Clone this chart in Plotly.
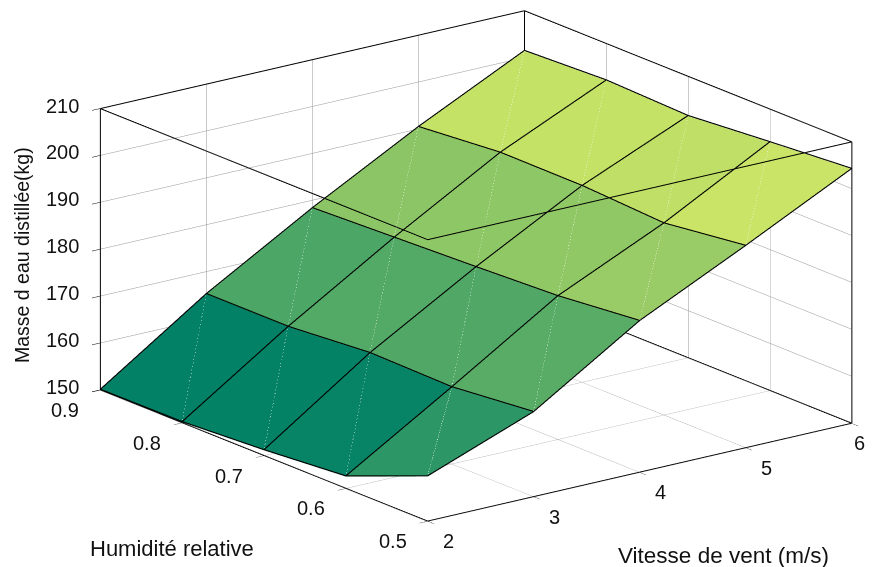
import plotly.graph_objects as go

# Data
vitesse = [2, 3, 4, 5, 6]
humidite = [0.5, 0.6, 0.7, 0.8, 0.9]
masse = [  # rows: humidite, columns: vitesse
    [159.5, 168.0, 182.2, 193.0, 204.2],
    [152.5, 166.3, 180.5, 190.8, 202.9],
    [151.1, 166.6, 179.7, 191.8, 201.5],
    [150.1, 165.2, 179.0, 191.9, 202.1],
    [150.0, 165.2, 178.3, 190.4, 201.4],
]
x_ticks = [2, 3, 4, 5, 6]
y_ticks = [0.5, 0.6, 0.7, 0.8, 0.9]
z_ticks = [150, 160, 170, 180, 190, 200, 210]

nx, ny = len(vitesse), len(humidite)
vx, vy, vz = [], [], []
for r in range(ny):
    for c in range(nx):
        vx.append(vitesse[c]); vy.append(humidite[r]); vz.append(masse[r][c])
idx = lambda r, c: r * nx + c
I, J, K, face = [], [], [], []
for r in range(ny - 1):
    for c in range(nx - 1):
        val = masse[r][c]
        I += [idx(r, c), idx(r, c)]
        J += [idx(r, c + 1), idx(r + 1, c + 1)]
        K += [idx(r + 1, c + 1), idx(r + 1, c)]
        face += [val, val]

fig = go.Figure()
fig.add_trace(go.Mesh3d(
    x=vx, y=vy, z=vz, i=I, j=J, k=K, intensity=face, intensitymode="cell",
    colorscale=[[0, "rgb(0,128,102)"], [0.08, "rgb(8,132,102)"], [0.3, "rgb(78,167,102)"], [1, "rgb(255,255,102)"]],
    cmin=148.5, cmax=205, showscale=False, flatshading=True, hoverinfo="skip",
    lighting=dict(ambient=1, diffuse=0, specular=0, fresnel=0, roughness=1),
))

lift = 0.15
# Mesh lines
lx, ly, lz = [], [], []
for r in range(ny):
    for c in range(nx):
        lx.append(vitesse[c]); ly.append(humidite[r]); lz.append(masse[r][c] + lift)
    lx.append(None); ly.append(None); lz.append(None)
for c in range(nx):
    for r in range(ny):
        lx.append(vitesse[c]); ly.append(humidite[r]); lz.append(masse[r][c] + lift)
    lx.append(None); ly.append(None); lz.append(None)
fig.add_trace(go.Scatter3d(x=lx, y=ly, z=lz, mode="lines", hoverinfo="skip", showlegend=False,
                           line=dict(color="black", width=2.2)))

# Faint quad diagonals
dx, dy, dz = [], [], []
for r in range(ny - 1):
    for c in range(nx - 1):
        dx += [vitesse[c], vitesse[c + 1], None]
        dy += [humidite[r], humidite[r + 1], None]
        dz += [masse[r][c] + lift, masse[r + 1][c + 1] + lift, None]
fig.add_trace(go.Scatter3d(x=dx, y=dy, z=dz, mode="lines", hoverinfo="skip", showlegend=False,
                           line=dict(color="rgba(255,255,255,0.3)", width=1)))

# Axes box edges
x0, x1 = x_ticks[0], x_ticks[-1]
y0, y1 = y_ticks[0], y_ticks[-1]
z0, z1 = z_ticks[0], z_ticks[-1]
edges = [
    ((x0, y1, z0), (x0, y1, z1)), ((x1, y1, z0), (x1, y1, z1)), ((x1, y0, z0), (x1, y0, z1)),
    ((x0, y1, z1), (x1, y1, z1)), ((x1, y1, z1), (x1, y0, z1)), ((x1, y0, z1), (x0, y0, z1)), ((x0, y0, z1), (x0, y1, z1)),
    ((x0, y1, z0), (x0, y0, z0)), ((x0, y0, z0), (x1, y0, z0)), ((x1, y0, z0), (x1, y1, z0)), ((x1, y1, z0), (x0, y1, z0)),
]
bx, by, bz = [], [], []
for a, b in edges:
    bx += [a[0], b[0], None]; by += [a[1], b[1], None]; bz += [a[2], b[2], None]
fig.add_trace(go.Scatter3d(x=bx, y=by, z=bz, mode="lines", hoverinfo="skip", showlegend=False,
                           line=dict(color="black", width=2)))

axis = dict(title=dict(text=""), showbackground=False, showgrid=True, gridcolor="#959595", gridwidth=1,
            zeroline=False, showline=False, ticks="outside", ticklen=10, tickcolor="black", tickwidth=1,
            showticklabels=False, showspikes=False)

# Tick labels placed through the scene's own projection
tick_font = dict(family="Liberation Sans", size=20, color="#111111")
tick_notes = []
for v in z_ticks:
    tick_notes.append(dict(x=x0, y=y1, z=v, text=str(v), showarrow=False, xanchor="center", yanchor="middle",
                           xshift=-38, yshift=3, font=tick_font))
for v in y_ticks:
    tick_notes.append(dict(x=x0, y=v, z=z0, text=str(v), showarrow=False, xanchor="center", yanchor="middle",
                           xshift=-35, yshift=-20, font=tick_font))
for v in x_ticks[:-1]:
    tick_notes.append(dict(x=v, y=y0, z=z0, text=str(v), showarrow=False, xanchor="center", yanchor="middle",
                           xshift=21, yshift=-20, font=tick_font))

D = 3.0
C = (-0.1059, 0.0419, -0.0849)
fig.update_layout(
    width=874, height=567, margin=dict(l=0, r=0, t=0, b=0), paper_bgcolor="white", showlegend=False,
    scene=dict(
        xaxis=dict(axis, range=[x0 - 0.002, x1 + 0.002], tickvals=x_ticks),
        yaxis=dict(axis, range=[y0 - 0.0002, y1 + 0.0002], tickvals=y_ticks),
        zaxis=dict(axis, range=[z0 - 0.03, z1 + 0.03], tickvals=z_ticks),
        aspectmode="manual", aspectratio=dict(x=1.88, y=1.912, z=1.043),
        camera=dict(projection=dict(type="orthographic"),
                    eye=dict(x=-0.576 * D + C[0], y=-0.759 * D + C[1], z=0.304 * D + C[2]),
                    center=dict(x=C[0], y=C[1], z=C[2]), up=dict(x=0, y=0, z=1)),
        annotations=tick_notes,
    ),
    annotations=[
        dict(text="Masse d eau distillée(kg)", x=14 / 874, y=1 - 247 / 567, xref="paper", yref="paper", showarrow=False,
             xanchor="center", yanchor="middle", textangle=-90,
             font=dict(family="Liberation Sans", size=19.5, color="#111111")),
        dict(text="Humidité relative", x=164 / 874, y=1 - 540 / 567, xref="paper", yref="paper", showarrow=False,
             xanchor="center", yanchor="middle", font=dict(family="Liberation Sans", size=22, color="#111111")),
        dict(text="Vitesse de vent (m/s)", x=715 / 874, y=1 - 547 / 567, xref="paper", yref="paper", showarrow=False,
             xanchor="center", yanchor="middle", font=dict(family="Liberation Sans", size=22.5, color="#111111")),
        dict(text=str(x_ticks[-1]), x=851 / 874, y=1 - 435 / 567, xref="paper", yref="paper", showarrow=False,
             xanchor="center", yanchor="middle", font=tick_font),
    ],
)
fig.write_html("out.html")
